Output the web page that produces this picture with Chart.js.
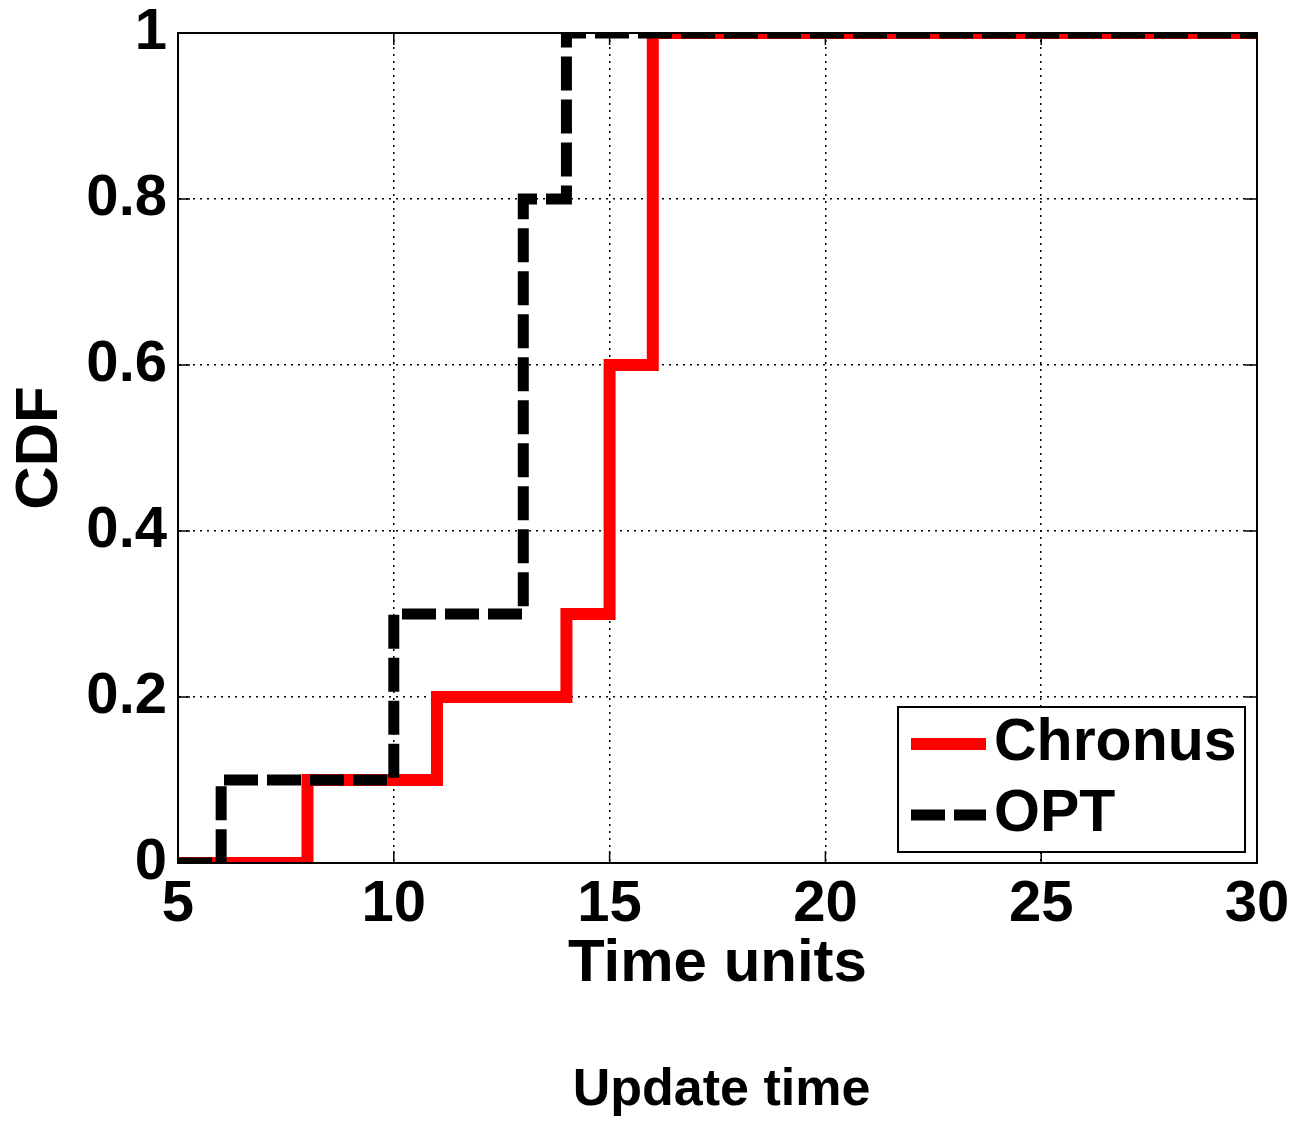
<!DOCTYPE html>
<html><head><meta charset="utf-8">
<script src="https://cdn.jsdelivr.net/npm/chart.js@4"></script>
<style>html,body{margin:0;padding:0;background:#fff}canvas{display:block}</style>
</head><body>
<canvas id="c" width="1295" height="1122"></canvas>
<script>
const seriesNames = ['Chronus', 'OPT'];
const chronusX = [5, 8, 11, 14, 15, 16, 30];
const chronusY = [0, 0.1, 0.2, 0.3, 0.6, 1, 1];
const optX = [5, 6, 10, 13, 14, 30];
const optY = [0, 0.1, 0.3, 0.8, 1, 1];
const xTicks = [5, 10, 15, 20, 25, 30];
const yTicks = [0, 0.2, 0.4, 0.6, 0.8, 1];
const yTickLabels = ['0', '0.2', '0.4', '0.6', '0.8', '1'];
const xTitle = 'Time units';
const yTitle = 'CDF';
const caption = 'Update time';

const FONT = '"Liberation Sans", Arial, Helvetica, sans-serif';
Chart.defaults.font.family = FONT;
Chart.defaults.color = '#000';

const framePlugin = {
  id: 'frame',
  afterDatasetsDraw(chart) {
    const {ctx, chartArea: a, scales: {x, y}} = chart;
    ctx.save();
    ctx.setLineDash([]);
    ctx.strokeStyle = '#000';
    ctx.lineWidth = 2;
    ctx.strokeRect(a.left, a.top, a.right - a.left, a.bottom - a.top);
    const L = 12;
    ctx.lineWidth = 1.5;
    ctx.beginPath();
    x.ticks.forEach(t => {
      const p = x.getPixelForValue(t.value);
      ctx.moveTo(p, a.bottom); ctx.lineTo(p, a.bottom - L);
      ctx.moveTo(p, a.top); ctx.lineTo(p, a.top + L);
    });
    y.ticks.forEach(t => {
      const p = y.getPixelForValue(t.value);
      ctx.moveTo(a.left, p); ctx.lineTo(a.left + L, p);
      ctx.moveTo(a.right, p); ctx.lineTo(a.right - L, p);
    });
    ctx.stroke();

    // legend box inside plot (lower right)
    const w = 347, h = 145;
    const bx = a.right - 12 - w, by = a.bottom - 11 - h;
    ctx.fillStyle = '#fff';
    ctx.fillRect(bx, by, w, h);
    ctx.lineWidth = 2;
    ctx.strokeRect(bx, by, w, h);
    const rows = [by + 37, by + 108];
    chart.data.datasets.forEach((ds, i) => {
      const ry = rows[i];
      ctx.save();
      ctx.strokeStyle = ds.borderColor;
      ctx.lineWidth = ds.borderWidth;
      ctx.lineCap = 'butt';
      ctx.setLineDash(ds.borderDash || []);
      ctx.beginPath();
      ctx.moveTo(bx + 13, ry);
      ctx.lineTo(bx + 88, ry);
      ctx.stroke();
      ctx.restore();
      ctx.fillStyle = '#000';
      ctx.font = 'bold 59px ' + FONT;
      ctx.textAlign = 'left';
      ctx.textBaseline = 'middle';
      ctx.fillText(ds.label, bx + 96, ry);
    });

    // caption below the axis
    ctx.fillStyle = '#000';
    ctx.font = 'bold 52px ' + FONT;
    ctx.textAlign = 'center';
    ctx.textBaseline = 'alphabetic';
    ctx.fillText(caption, (a.left + a.right) / 2 + 4, a.bottom + 242);
    ctx.restore();
  }
};

new Chart(document.getElementById('c'), {
  type: 'line',
  data: {
    datasets: [
      {
        label: seriesNames[0],
        data: chronusX.map((v, i) => ({x: v, y: chronusY[i]})),
        borderColor: '#ff0000', borderWidth: 12, stepped: true,
        pointRadius: 0, fill: false, clip: 0, order: 1,
        borderJoinStyle: 'miter', borderCapStyle: 'butt'
      },
      {
        label: seriesNames[1],
        data: optX.map((v, i) => ({x: v, y: optY[i]})),
        borderColor: '#000000', borderWidth: 11, borderDash: [34, 9], stepped: true,
        pointRadius: 0, fill: false, clip: 0, order: 0,
        borderJoinStyle: 'miter', borderCapStyle: 'butt'
      }
    ]
  },
  options: {
    responsive: false, animation: false, devicePixelRatio: 1,
    layout: {padding: {top: 33, right: 38, left: 0, bottom: 61}},
    plugins: {
      legend: {display: false},
      tooltip: {enabled: false},
      title: {display: false}
    },
    scales: {
      x: {
        type: 'linear', min: xTicks[0], max: xTicks[xTicks.length - 1],
        afterBuildTicks: s => { s.ticks = xTicks.map(v => ({value: v})); },
        afterFit: s => { s.height = 198; s.paddingLeft = 0; s.paddingRight = 0; },
        ticks: {font: {size: 58, weight: 'bold', lineHeight: 1}, color: '#000', padding: 13, maxRotation: 0, autoSkip: false},
        grid: {color: '#000', lineWidth: 1.5, drawTicks: false},
        border: {display: true, color: '#000', width: 2, dash: [2, 5]},
        title: {display: true, text: xTitle, color: '#000', font: {size: 60, weight: 'bold'}, padding: {top: 0, bottom: 61}}
      },
      y: {
        type: 'linear', min: yTicks[0], max: yTicks[yTicks.length - 1],
        afterBuildTicks: s => { s.ticks = yTicks.map(v => ({value: v})); },
        afterFit: s => { s.width = 178; s.paddingTop = 0; s.paddingBottom = 0; },
        ticks: {
          font: {size: 58, weight: 'bold', lineHeight: 1}, color: '#000', padding: 11,
          callback: (v) => { const i = yTicks.indexOf(v); return i >= 0 ? yTickLabels[i] : ''; }
        },
        grid: {color: '#000', lineWidth: 1.5, drawTicks: false},
        border: {display: true, color: '#000', width: 2, dash: [2, 5]},
        title: {display: true, text: yTitle, color: '#000', font: {size: 60, weight: 'bold'}, padding: {top: 4, bottom: 0}}
      }
    }
  },
  plugins: [framePlugin]
});
</script>
</body></html>
